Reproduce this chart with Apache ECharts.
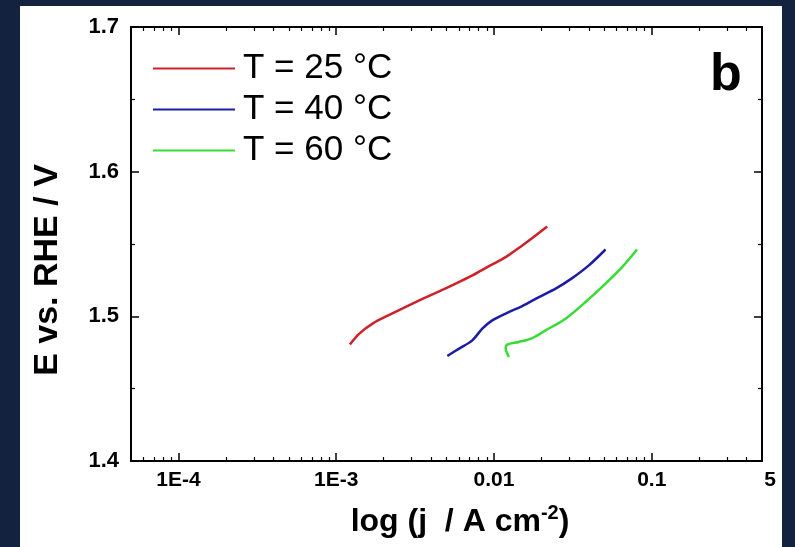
<!DOCTYPE html>
<html>
<head>
<meta charset="utf-8">
<script src="https://cdn.jsdelivr.net/npm/echarts@6/dist/echarts.min.js"></script>
<style>
  html, body { margin: 0; padding: 0; background: #12223f; }
  #main { width: 795px; height: 547px; }
</style>
</head>
<body>
<div id="main"></div>
<script>
// tafel data: j in A cm-2, E in V vs RHE
const redJ = [0.00122, 0.00140, 0.00170, 0.00217, 0.00276, 0.00352, 0.00449, 0.00572, 0.00729, 0.00930, 0.01186, 0.01482, 0.01836, 0.02174];
const redE = [1.4805, 1.4881, 1.4950, 1.5010, 1.5066, 1.5120, 1.5172, 1.5226, 1.5283, 1.5347, 1.5409, 1.5483, 1.5559, 1.5621];

const blueJ = [0.00506, 0.00601, 0.00729, 0.00843, 0.00975, 0.01186, 0.01510, 0.01927, 0.02458, 0.03131, 0.03993, 0.05093];
const blueE = [1.4726, 1.4777, 1.4834, 1.4915, 1.4972, 1.5019, 1.5071, 1.5133, 1.5191, 1.5264, 1.5352, 1.5462];

const greenJ = [0.01244, 0.01186, 0.01214, 0.01439, 0.01747, 0.02124, 0.02843, 0.03805, 0.05093, 0.06486, 0.08072];
const greenE = [1.4719, 1.4777, 1.4805, 1.4823, 1.4850, 1.4903, 1.4984, 1.5099, 1.5226, 1.5340, 1.5462];

const seriesNames = ['T = 25 °C', 'T = 40 °C', 'T = 60 °C'];
const seriesColors = ['#d0202a', '#1c1ca6', '#35dd35'];

const xMajorTicks = [1e-4, 1e-3, 1e-2, 1e-1];
const xMinorTicks = [6e-5, 7e-5, 8e-5, 9e-5,
  2e-4, 3e-4, 4e-4, 5e-4, 6e-4, 7e-4, 8e-4, 9e-4,
  2e-3, 3e-3, 4e-3, 5e-3, 6e-3, 7e-3, 8e-3, 9e-3,
  2e-2, 3e-2, 4e-2, 5e-2, 6e-2, 7e-2, 8e-2, 9e-2,
  0.2, 0.3, 0.4];
const xLabelValues = [1e-4, 1e-3, 1e-2, 1e-1, 0.5];
const xLabelTexts = ['1E-4', '1E-3', '0.01', '0.1', '5'];

const FONT = '"Liberation Sans", Arial, sans-serif';

const pairs = (xs, ys) => xs.map((x, i) => [x, ys[i]]);

const myChart = echarts.init(document.getElementById('main'));

function xLabel(v) {
    let best = 0;
    xLabelValues.forEach((t, i) => {
        if (Math.abs(Math.log10(t) - Math.log10(v)) < Math.abs(Math.log10(xLabelValues[best]) - Math.log10(v))) best = i;
    });
    // the last label sits a bit to the right of the axis end
    return best === xLabelValues.length - 1 ? '{e|' + xLabelTexts[best] + '}' : xLabelTexts[best];
}

const logAxis = (pos, extra) => Object.assign({
    type: 'log',
    logBase: 10,
    position: pos,
    min: 5e-5,
    max: 0.5,
    splitLine: { show: false },
    axisLine: { show: false },
    axisLabel: { show: false },
    axisTick: { show: false }
}, extra);

const lineStyleAxis = { color: '#000', width: 2 };

const option = {
    backgroundColor: '#12223f',
    animation: false,
    grid: { left: 131, top: 27, right: 33, bottom: 86 },
    legend: {
        orient: 'vertical',
        left: 153,
        top: 51,
        padding: 0,
        icon: 'rect',
        itemWidth: 82,
        itemHeight: 2,
        itemGap: 6,
        data: seriesNames,
        textStyle: { fontFamily: FONT, fontSize: 35, color: '#000', lineHeight: 35, padding: [0, 0, 0, 3] }
    },
    xAxis: [
        logAxis('bottom', {
            axisLine: { show: true, onZero: false, lineStyle: lineStyleAxis },
            axisTick: { show: true, inside: true, length: 8, customValues: xMajorTicks, lineStyle: { color: '#000', width: 1.5 } },
            axisLabel: {
                show: true,
                customValues: xLabelValues,
                margin: 9,
                formatter: xLabel,
                fontFamily: FONT,
                fontWeight: 'bold',
                fontSize: 21,
                color: '#000',
                rich: { e: { fontFamily: FONT, fontWeight: 'bold', fontSize: 21, color: '#000', padding: [0, 0, 0, 16] } }
            }
        }),
        logAxis('bottom', {
            axisTick: { show: true, inside: true, length: 4, customValues: xMinorTicks, lineStyle: { color: '#000', width: 1.2 } }
        }),
        logAxis('top', {
            axisLine: { show: true, onZero: false, lineStyle: lineStyleAxis },
            axisTick: { show: true, inside: true, length: 8, customValues: xMajorTicks, lineStyle: { color: '#000', width: 1.5 } }
        }),
        logAxis('top', {
            axisTick: { show: true, inside: true, length: 4, customValues: xMinorTicks, lineStyle: { color: '#000', width: 1.2 } }
        })
    ],
    yAxis: [
        {
            type: 'value',
            position: 'left',
            min: 1.4,
            max: 1.7,
            interval: 0.1,
            splitLine: { show: false },
            axisLine: { show: true, onZero: false, lineStyle: lineStyleAxis },
            axisTick: { show: true, inside: true, length: 8, lineStyle: { color: '#000', width: 1.5 } },
            minorTick: { show: true, splitNumber: 2, length: 4, lineStyle: { color: '#000', width: 1.2 } },
            axisLabel: {
                margin: 12,
                formatter: v => v.toFixed(1),
                fontFamily: FONT,
                fontWeight: 'bold',
                fontSize: 22,
                color: '#000'
            }
        },
        {
            type: 'value',
            position: 'right',
            min: 1.4,
            max: 1.7,
            interval: 0.1,
            splitLine: { show: false },
            axisLine: { show: true, onZero: false, lineStyle: lineStyleAxis },
            axisTick: { show: true, inside: true, length: 8, lineStyle: { color: '#000', width: 1.5 } },
            minorTick: { show: true, splitNumber: 2, length: 4, lineStyle: { color: '#000', width: 1.2 } },
            axisLabel: { show: false }
        }
    ],
    graphic: [
        {
            type: 'rect',
            silent: true,
            z: -100,
            shape: { x: 20, y: 6, width: 762, height: 541 },
            style: { fill: '#ffffff' }
        },
        {
            type: 'text',
            x: 48,
            y: 270,
            rotation: Math.PI / 2,
            style: {
                text: 'E vs. RHE / V',
                align: 'center',
                verticalAlign: 'middle',
                font: 'bold 34px ' + FONT,
                fill: '#000'
            }
        },
        {
            type: 'text',
            x: 460,
            y: 522,
            style: {
                text: 'log (j  / A cm{sup|-2})',
                align: 'center',
                verticalAlign: 'middle',
                font: 'bold 32px ' + FONT,
                fill: '#000',
                rich: {
                    sup: { font: 'bold 20px ' + FONT, fill: '#000', verticalAlign: 'top', padding: [0, 0, 18, 0] }
                }
            }
        },
        {
            type: 'text',
            x: 726,
            y: 76,
            style: {
                text: 'b',
                align: 'center',
                verticalAlign: 'middle',
                font: 'bold 52px ' + FONT,
                fill: '#000'
            }
        }
    ],
    series: [
        { name: seriesNames[0], data: pairs(redJ, redE) },
        { name: seriesNames[1], data: pairs(blueJ, blueE) },
        { name: seriesNames[2], data: pairs(greenJ, greenE) }
    ].map((s, i) => Object.assign({
        type: 'line',
        xAxisIndex: 0,
        yAxisIndex: 0,
        symbol: 'none',
        smooth: 0.3,
        color: seriesColors[i],
        lineStyle: { width: 2.5, color: seriesColors[i] }
    }, s))
};

myChart.setOption(option);
</script>
</body>
</html>
